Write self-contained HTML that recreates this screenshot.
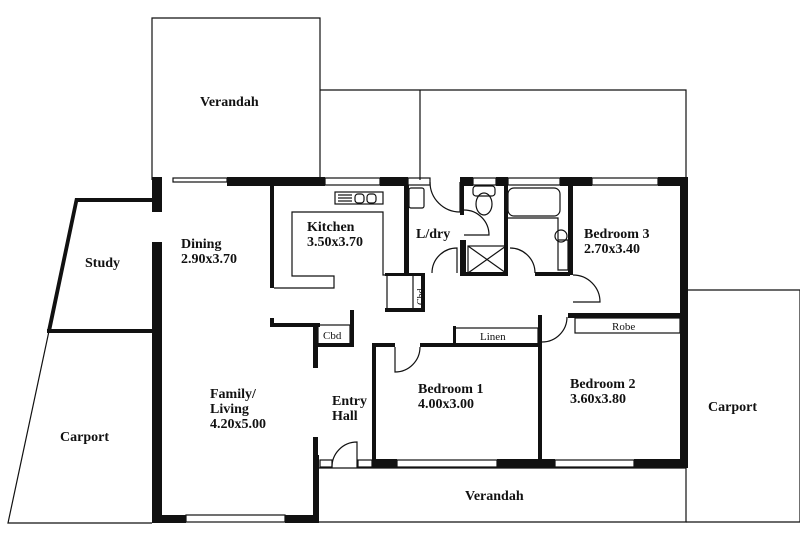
<!DOCTYPE html>
<html><head><style>
html,body{margin:0;padding:0;background:#fff;}
svg{display:block}
text{font-family:"Liberation Serif",serif;font-weight:bold;fill:#111;}
</style></head><body>
<svg width="800" height="545" viewBox="0 0 800 545" xmlns="http://www.w3.org/2000/svg">
<g fill="none" stroke="#111" stroke-width="1.2">
  <polyline points="152,180 152,18 320,18 320,180"/>
  <polyline points="320,90 686,90 686,180"/>
  <line x1="420" y1="90" x2="420" y2="180"/>
  <polyline points="686,290 800,290 800,522 686,522"/>
  <polyline points="318,468 686,468 686,522 318,522"/>
  <polyline points="49,331 8,523 152,523"/>
  <rect x="173" y="178" width="54" height="4"/>
  <rect x="325" y="178" width="55" height="7"/>
  <rect x="408" y="178" width="22" height="7"/>
  <rect x="473" y="178" width="23" height="7"/>
  <rect x="508" y="178" width="52" height="7"/>
  <rect x="592" y="178" width="66" height="7"/>
  <rect x="186" y="515" width="99" height="7"/>
  <rect x="397" y="460" width="100" height="7"/>
  <rect x="555" y="460" width="79" height="7"/>
  <rect x="320" y="460" width="12" height="7"/>
  <rect x="358" y="460" width="14" height="7"/>
  <polyline points="274,288 334,288 334,276 292,276 292,212 383,212 383,275 405,275"/>
  <rect x="335" y="192" width="48" height="12"/>
  <line x1="338" y1="195" x2="352" y2="195"/><line x1="338" y1="198" x2="352" y2="198"/><line x1="338" y1="201" x2="352" y2="201"/>
  <rect x="355" y="194" width="9" height="9" rx="3"/><rect x="367" y="194" width="9" height="9" rx="3"/>
  <polyline points="387,275 387,310 423,310"/>
  <line x1="413" y1="275" x2="413" y2="310"/>
  <rect x="409" y="188" width="15" height="20" rx="2"/>
  <rect x="473" y="186" width="22" height="10" rx="3"/>
  <ellipse cx="484" cy="204" rx="8" ry="11"/>
  <rect x="508" y="188" width="52" height="28" rx="6"/>
  <polyline points="505,218 558,218 558,240 568,240 568,270 558,270 558,240"/>
  <circle cx="561" cy="236" r="6"/>
  <rect x="468" y="246" width="38" height="27"/>
  <line x1="468" y1="246" x2="506" y2="273"/><line x1="506" y1="246" x2="468" y2="273"/>
  <path d="M430,182 A30,30 0 0 0 460,212 L460,182"/>
  <path d="M464,210 A25,25 0 0 1 489,235 L464,235"/>
  <path d="M432,273 A25,25 0 0 1 457,248 L457,273"/>
  <path d="M510,248 A25,25 0 0 1 535,273"/>
  <path d="M573,275 A27,27 0 0 1 600,302 L573,302"/>
  <path d="M542,342 A25,25 0 0 0 567,317"/>
  <path d="M395,347 L395,372 A25,25 0 0 0 420,347"/>
  <path d="M332,468 A25,25 0 0 1 357,442 L357,468"/>
  <rect x="455" y="328" width="83" height="16"/>
  <rect x="575" y="318" width="105" height="15"/>
  <rect x="318" y="325" width="32" height="20"/>
</g>
<g fill="#111">
  <polygon points="75,198 152,198 152,202 78,202 51,331 47,331"/>
  <rect x="47" y="329" width="105" height="4"/>
  <rect x="152" y="177" width="10" height="35"/>
  <rect x="152" y="242" width="10" height="281"/>
  <rect x="152" y="515" width="34" height="8"/>
  <rect x="285" y="515" width="33" height="8"/>
  <rect x="313" y="455" width="6" height="68"/>
  <rect x="227" y="177" width="98" height="9"/>
  <rect x="380" y="177" width="28" height="9"/>
  <rect x="460" y="177" width="13" height="9"/>
  <rect x="496" y="177" width="12" height="9"/>
  <rect x="560" y="177" width="32" height="9"/>
  <rect x="658" y="177" width="30" height="9"/>
  <rect x="680" y="177" width="8" height="291"/>
  <rect x="372" y="459" width="25" height="9"/>
  <rect x="497" y="459" width="58" height="9"/>
  <rect x="634" y="459" width="54" height="9"/>
  <rect x="270" y="185" width="4" height="103"/>
  <rect x="404" y="185" width="5" height="90"/>
  <rect x="385" y="273" width="40" height="3"/>
  <rect x="385" y="308" width="40" height="4"/>
  <rect x="421" y="273" width="4" height="39"/>
  <rect x="460" y="185" width="4" height="30"/>
  <rect x="460" y="240" width="6" height="36"/>
  <rect x="504" y="185" width="4" height="91"/>
  <rect x="463" y="272" width="45" height="4"/>
  <rect x="535" y="272" width="35" height="4"/>
  <rect x="568" y="185" width="5" height="90"/>
  <rect x="568" y="313" width="120" height="5"/>
  <rect x="538" y="315" width="4" height="153"/>
  <rect x="372" y="343" width="4" height="125"/>
  <rect x="372" y="343" width="23" height="4"/>
  <rect x="420" y="343" width="120" height="4"/>
  <rect x="453" y="326" width="3" height="20"/>
  <rect x="270" y="318" width="4" height="9"/>
  <rect x="270" y="323" width="50" height="4"/>
  <rect x="350" y="310" width="4" height="37"/>
  <rect x="318" y="343" width="36" height="4"/>
  <rect x="313" y="325" width="5" height="43"/>
  <rect x="313" y="437" width="5" height="25"/>
</g>
<g font-size="14">
  <text x="200" y="106">Verandah</text>
  <text x="85" y="267">Study</text>
  <text x="181" y="248">Dining</text><text x="181" y="263">2.90x3.70</text>
  <text x="307" y="231">Kitchen</text><text x="307" y="246">3.50x3.70</text>
  <text x="416" y="238">L/dry</text>
  <text x="584" y="238">Bedroom 3</text><text x="584" y="253">2.70x3.40</text>
  <text x="210" y="398">Family/</text><text x="210" y="413">Living</text><text x="210" y="428">4.20x5.00</text>
  <text x="332" y="405">Entry</text><text x="332" y="420">Hall</text>
  <text x="418" y="393">Bedroom 1</text><text x="418" y="408">4.00x3.00</text>
  <text x="570" y="388">Bedroom 2</text><text x="570" y="403">3.60x3.80</text>
  <text x="60" y="441">Carport</text>
  <text x="708" y="411">Carport</text>
  <text x="465" y="500">Verandah</text>
</g>
<g font-size="11">
  <text x="480" y="340" style="font-weight:normal">Linen</text>
  <text x="612" y="330" style="font-weight:normal">Robe</text>
  <text x="323" y="339" style="font-weight:normal">Cbd</text>
  <text x="0" y="0" transform="translate(424,305) rotate(-90)" style="font-weight:normal;font-size:10px">Cbd</text>
</g>
</svg>
</body></html>
